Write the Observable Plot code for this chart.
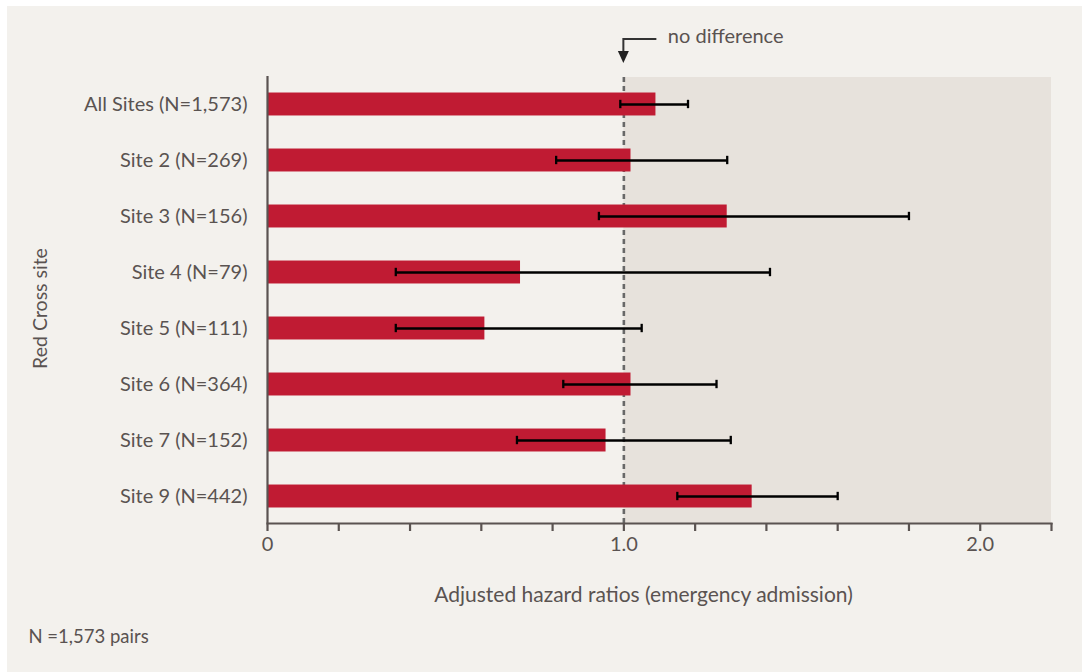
<!DOCTYPE html>
<html>
<head>
<meta charset="utf-8">
<script src="https://cdn.jsdelivr.net/npm/d3@7"></script>
<script src="https://cdn.jsdelivr.net/npm/@observablehq/plot@0.6"></script>
<style>
  html, body { margin: 0; padding: 0; background: #ffffff; }
  #panel { position: absolute; left: 7px; top: 6px; width: 1075px; height: 666px; background: #f3f1ed; overflow: hidden; }
  #panel svg { display: block; }
</style>
</head>
<body>
<div id="panel"></div>
<script>
// ---- data ----
const sites = ["All Sites (N=1,573)", "Site 2 (N=269)", "Site 3 (N=156)", "Site 4 (N=79)",
               "Site 5 (N=111)", "Site 6 (N=364)", "Site 7 (N=152)", "Site 9 (N=442)"];
const hazardRatio = [1.09, 1.02, 1.29, 0.71, 0.61, 1.02, 0.95, 1.36];
const ciLower     = [0.99, 0.81, 0.93, 0.36, 0.36, 0.83, 0.70, 1.15];
const ciUpper     = [1.18, 1.29, 1.80, 1.41, 1.05, 1.26, 1.30, 1.60];
const xTicks = [0, 0.2, 0.4, 0.6, 0.8, 1.0, 1.2, 1.4, 1.6, 1.8, 2.0, 2.2];
const xTickLabelValues = [0, 1, 2];
const xTickLabels = ["0", "1.0", "2.0"];
const referenceValue = 1.0;
const xMax = 2.2;

const data = sites.map((s, i) => ({site: s, hr: hazardRatio[i], lo: ciLower[i], hi: ciUpper[i]}));

const textColor = "#5a5351";
const font = "Lato, 'Noto Sans', sans-serif";

const chart = Plot.plot({
  width: 1075,
  height: 666,
  marginLeft: 260,
  marginRight: 31,
  marginTop: 71,
  marginBottom: 149,
  style: {fontFamily: font, fontSize: "20px", color: textColor, background: "transparent"},
  x: {domain: [0, xMax]},
  y: {domain: sites, paddingInner: 0.59, paddingOuter: 0.277, round: false},
  marks: [
    Plot.rect([{x1: referenceValue, x2: xMax}], {x1: "x1", x2: "x2", fill: "#e7e2dc"}),
    Plot.ruleX([referenceValue], {stroke: "#686868", strokeWidth: 2.6, strokeDasharray: "5,4"}),
    Plot.barX(data, {x: "hr", y: "site", fill: "#c01b33"}),
    Plot.ruleY(data, {y: "site", x1: "lo", x2: "hi", stroke: "#000", strokeWidth: 2.3}),
    Plot.tickX(data, {x: "lo", y: "site", stroke: "#000", strokeWidth: 2.3, insetTop: 7.3, insetBottom: 7.3}),
    Plot.tickX(data, {x: "hi", y: "site", stroke: "#000", strokeWidth: 2.3, insetTop: 7.3, insetBottom: 7.3}),
    Plot.ruleX([0], {stroke: textColor, strokeWidth: 2.2, insetTop: -1}),
    Plot.frame({anchor: "bottom", stroke: textColor, strokeWidth: 2.2}),
    Plot.axisX({
      ticks: xTicks, tickSize: 8, tickPadding: 5, strokeWidth: 2.2, color: textColor,
      fontSize: 20, label: null,
      tickFormat: d => { const k = xTickLabelValues.indexOf(d); return k >= 0 ? xTickLabels[k] : ""; }
    }),
    Plot.axisY({tickSize: 0, tickPadding: 20, fontSize: 20, color: textColor, label: null}),
    Plot.text(["Red Cross site"], {text: d => d, frameAnchor: "left", textAnchor: "middle", lineAnchor: "middle",
      rotate: -90, dx: -227, dy: 8, fontSize: 19.5, fill: textColor}),
    Plot.text(["Adjusted hazard ratios (emergency admission)"], {text: d => d, frameAnchor: "bottom",
      textAnchor: "middle", lineAnchor: "middle", dx: -16, dy: 72, fontSize: 21, fill: textColor}),
    Plot.text(["N =1,573 pairs"], {text: d => d, frameAnchor: "bottom-left", dx: -239, dy: 114,
      textAnchor: "start", lineAnchor: "middle", fontSize: 18.5, fill: textColor}),
    Plot.text(["no difference"], {text: d => d, x: () => referenceValue, frameAnchor: "top", dx: 44, dy: -41,
      textAnchor: "start", lineAnchor: "middle", fontSize: 20, fill: textColor})
  ]
});

// elbow arrow pointing at the reference line
const px = chart.scale("x").apply(referenceValue);
const svg = d3.select(chart);
svg.append("path")
  .attr("d", `M${px + 33},33 H${px} V48`)
  .attr("fill", "none").attr("stroke", "#333").attr("stroke-width", 2);
svg.append("polygon")
  .attr("points", `${px - 5.5},45 ${px + 5.5},45 ${px},57`)
  .attr("fill", "#222");

document.getElementById("panel").appendChild(chart);
</script>
</body>
</html>
